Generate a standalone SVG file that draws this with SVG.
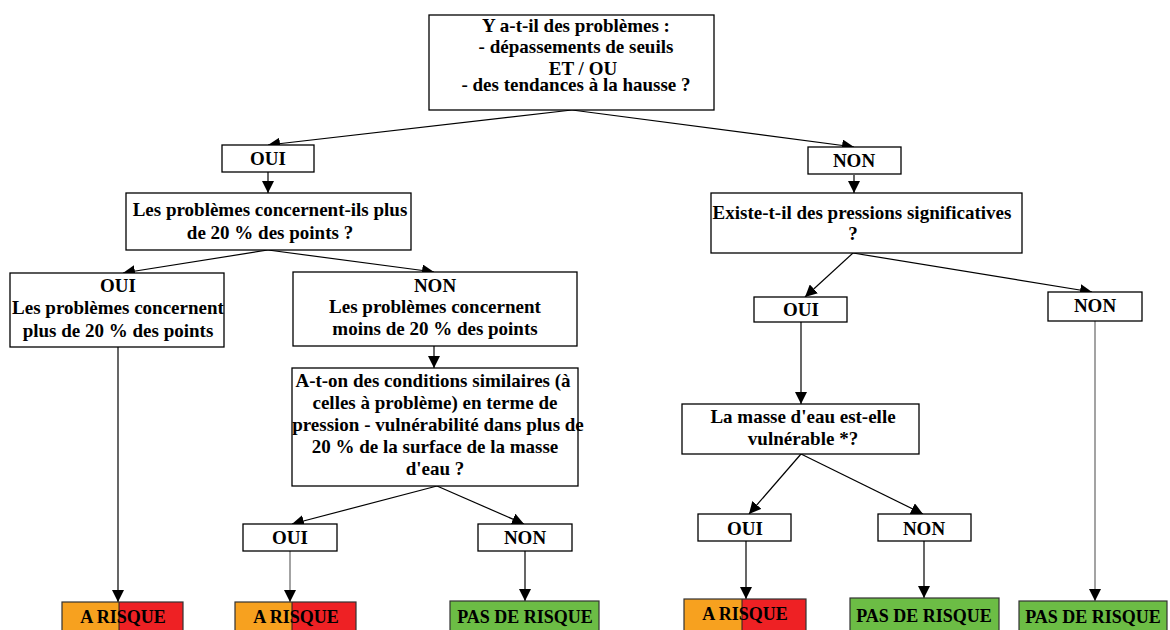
<svg xmlns="http://www.w3.org/2000/svg" width="1170" height="630" viewBox="0 0 1170 630">
<style>
.box{fill:#fff;stroke:#000;stroke-width:1.3}
.t{font-family:"Liberation Serif","Times New Roman",serif;font-weight:bold;font-size:19px;fill:#000;text-anchor:middle}
.s{font-size:18px}
.c{stroke:#000;stroke-width:1.2;fill:none;marker-end:url(#ah)}
.g{stroke:#666}
.or{fill:#F7A11F}
.rd{fill:#EE2124}
.gr{fill:#6CBD45}
.bb{fill:none;stroke:#333;stroke-width:1.2}
</style>
<defs>
<marker id="ah" markerWidth="12" markerHeight="12" refX="12" refY="6" orient="auto" markerUnits="userSpaceOnUse">
<path d="M0,0 L12,6 L0,12 z" fill="#000"/>
</marker>
</defs>
<rect width="1170" height="630" fill="#fff"/>
<g id="connectors">
<line class="c" x1="572" y1="110" x2="268" y2="145"/>
<line class="c" x1="572" y1="110" x2="854" y2="147"/>
<line class="c" x1="268" y1="172" x2="268" y2="193"/>
<line class="c" x1="854" y1="175" x2="854" y2="193"/>
<line class="c" x1="268" y1="250" x2="123" y2="273"/>
<line class="c" x1="268" y1="250" x2="434" y2="272"/>
<line class="c" x1="434" y1="346" x2="434" y2="368"/>
<line class="c" x1="118" y1="347" x2="118" y2="602"/>
<line class="c" x1="437" y1="486" x2="292" y2="524"/>
<line class="c" x1="437" y1="486" x2="524" y2="524"/>
<line class="c g" x1="290" y1="551" x2="290" y2="602"/>
<line class="c" x1="525" y1="551" x2="525" y2="601"/>
<line class="c" x1="853" y1="253" x2="805" y2="297"/>
<line class="c" x1="853" y1="253" x2="1092" y2="292"/>
<line class="c" x1="801" y1="322" x2="801" y2="404"/>
<line class="c g" x1="1095" y1="321" x2="1095" y2="601"/>
<line class="c" x1="801" y1="454" x2="749" y2="514"/>
<line class="c" x1="801" y1="454" x2="923" y2="514"/>
<line class="c" x1="746" y1="541" x2="746" y2="599"/>
<line class="c" x1="924" y1="541" x2="924" y2="598"/>
</g>
<g id="n-top">
<rect class="box" x="429" y="15" width="285" height="95"/>
<text class="t" x="576" y="32">Y a-t-il des problèmes :</text>
<text class="t" x="576" y="53">- dépassements de seuils</text>
<text class="t" x="583" y="75">ET / OU</text>
<text class="t" x="576" y="91">- des tendances à la hausse ?</text>
</g>
<g id="n-oui1">
<rect class="box" x="222" y="145" width="92" height="27"/>
<text class="t" x="268" y="165">OUI</text>
</g>
<g id="n-non1">
<rect class="box" x="808" y="147" width="93" height="27"/>
<text class="t" x="854" y="167">NON</text>
</g>
<g id="n-q20">
<rect class="box" x="126" y="193" width="285" height="57"/>
<text class="t" x="270" y="216">Les problèmes concernent-ils plus</text>
<text class="t" x="270" y="239">de 20 % des points ?</text>
</g>
<g id="n-oui-plus">
<rect class="box" x="10" y="273" width="214" height="74"/>
<text class="t" x="118" y="292">OUI</text>
<text class="t" x="118" y="314">Les problèmes concernent</text>
<text class="t" x="118" y="337">plus de 20 % des points</text>
</g>
<g id="n-non-moins">
<rect class="box" x="293" y="272" width="284" height="74"/>
<text class="t" x="435" y="292">NON</text>
<text class="t" x="435" y="313">Les problèmes concernent</text>
<text class="t" x="435" y="335">moins de 20 % des points</text>
</g>
<g id="n-cond">
<rect class="box" x="292" y="368" width="286" height="118"/>
<text class="t" x="433" y="387">A-t-on des conditions similaires (à</text>
<text class="t" x="435" y="409">celles à problème) en terme de</text>
<text class="t" x="438" y="431">pression - vulnérabilité dans plus de</text>
<text class="t" x="435" y="453">20 % de la surface de la masse</text>
<text class="t" x="435" y="475">d'eau ?</text>
</g>
<g id="n-oui-c">
<rect class="box" x="243" y="524" width="94" height="27"/>
<text class="t" x="290" y="544">OUI</text>
</g>
<g id="n-non-c">
<rect class="box" x="478" y="524" width="94" height="27"/>
<text class="t" x="525" y="544">NON</text>
</g>
<g id="n-press">
<rect class="box" x="711" y="193" width="311" height="60"/>
<text class="t" x="862" y="219">Existe-t-il des pressions significatives</text>
<text class="t" x="853" y="240">?</text>
</g>
<g id="n-oui-p">
<rect class="box" x="754" y="297" width="93" height="25"/>
<text class="t" x="801" y="316">OUI</text>
</g>
<g id="n-non-p">
<rect class="box" x="1048" y="292" width="94" height="29"/>
<text class="t" x="1095" y="312">NON</text>
</g>
<g id="n-vuln">
<rect class="box" x="682" y="404" width="237" height="50"/>
<text class="t" x="803" y="423">La masse d'eau est-elle</text>
<text class="t" x="803" y="445">vulnérable *?</text>
</g>
<g id="n-oui-v">
<rect class="box" x="698" y="514" width="93" height="27"/>
<text class="t" x="745" y="535">OUI</text>
</g>
<g id="n-non-v">
<rect class="box" x="878" y="514" width="93" height="27"/>
<text class="t" x="924" y="535">NON</text>
</g>
<g id="n-risk1">
<rect class="or" x="62" y="602" width="57" height="40"/>
<rect class="rd" x="119" y="602" width="64" height="40"/>
<line x1="119" y1="602" x2="119" y2="642" stroke="#222" stroke-width="1"/>
<rect class="bb" x="62" y="602" width="121" height="40"/>
<text class="t s" x="123" y="623">A RISQUE</text>
</g>
<g id="n-risk2">
<rect class="or" x="235" y="602" width="57" height="40"/>
<rect class="rd" x="292" y="602" width="64" height="40"/>
<line x1="292" y1="602" x2="292" y2="642" stroke="#222" stroke-width="1"/>
<rect class="bb" x="235" y="602" width="121" height="40"/>
<text class="t s" x="296" y="623">A RISQUE</text>
</g>
<g id="n-safe1">
<rect class="gr" x="450" y="601" width="149" height="40"/>
<rect class="bb" x="450" y="601" width="149" height="40"/>
<text class="t s" x="525" y="623">PAS DE RISQUE</text>
</g>
<g id="n-risk3">
<rect class="or" x="684" y="599" width="58" height="40"/>
<rect class="rd" x="742" y="599" width="64" height="40"/>
<line x1="742" y1="599" x2="742" y2="639" stroke="#222" stroke-width="1"/>
<rect class="bb" x="684" y="599" width="122" height="40"/>
<text class="t s" x="745" y="620">A RISQUE</text>
</g>
<g id="n-safe2">
<rect class="gr" x="850" y="598" width="149" height="40"/>
<rect class="bb" x="850" y="598" width="149" height="40"/>
<text class="t s" x="924" y="622">PAS DE RISQUE</text>
</g>
<g id="n-safe3">
<rect class="gr" x="1019" y="601" width="148" height="40"/>
<rect class="bb" x="1019" y="601" width="148" height="40"/>
<text class="t s" x="1093" y="623">PAS DE RISQUE</text>
</g>
</svg>
